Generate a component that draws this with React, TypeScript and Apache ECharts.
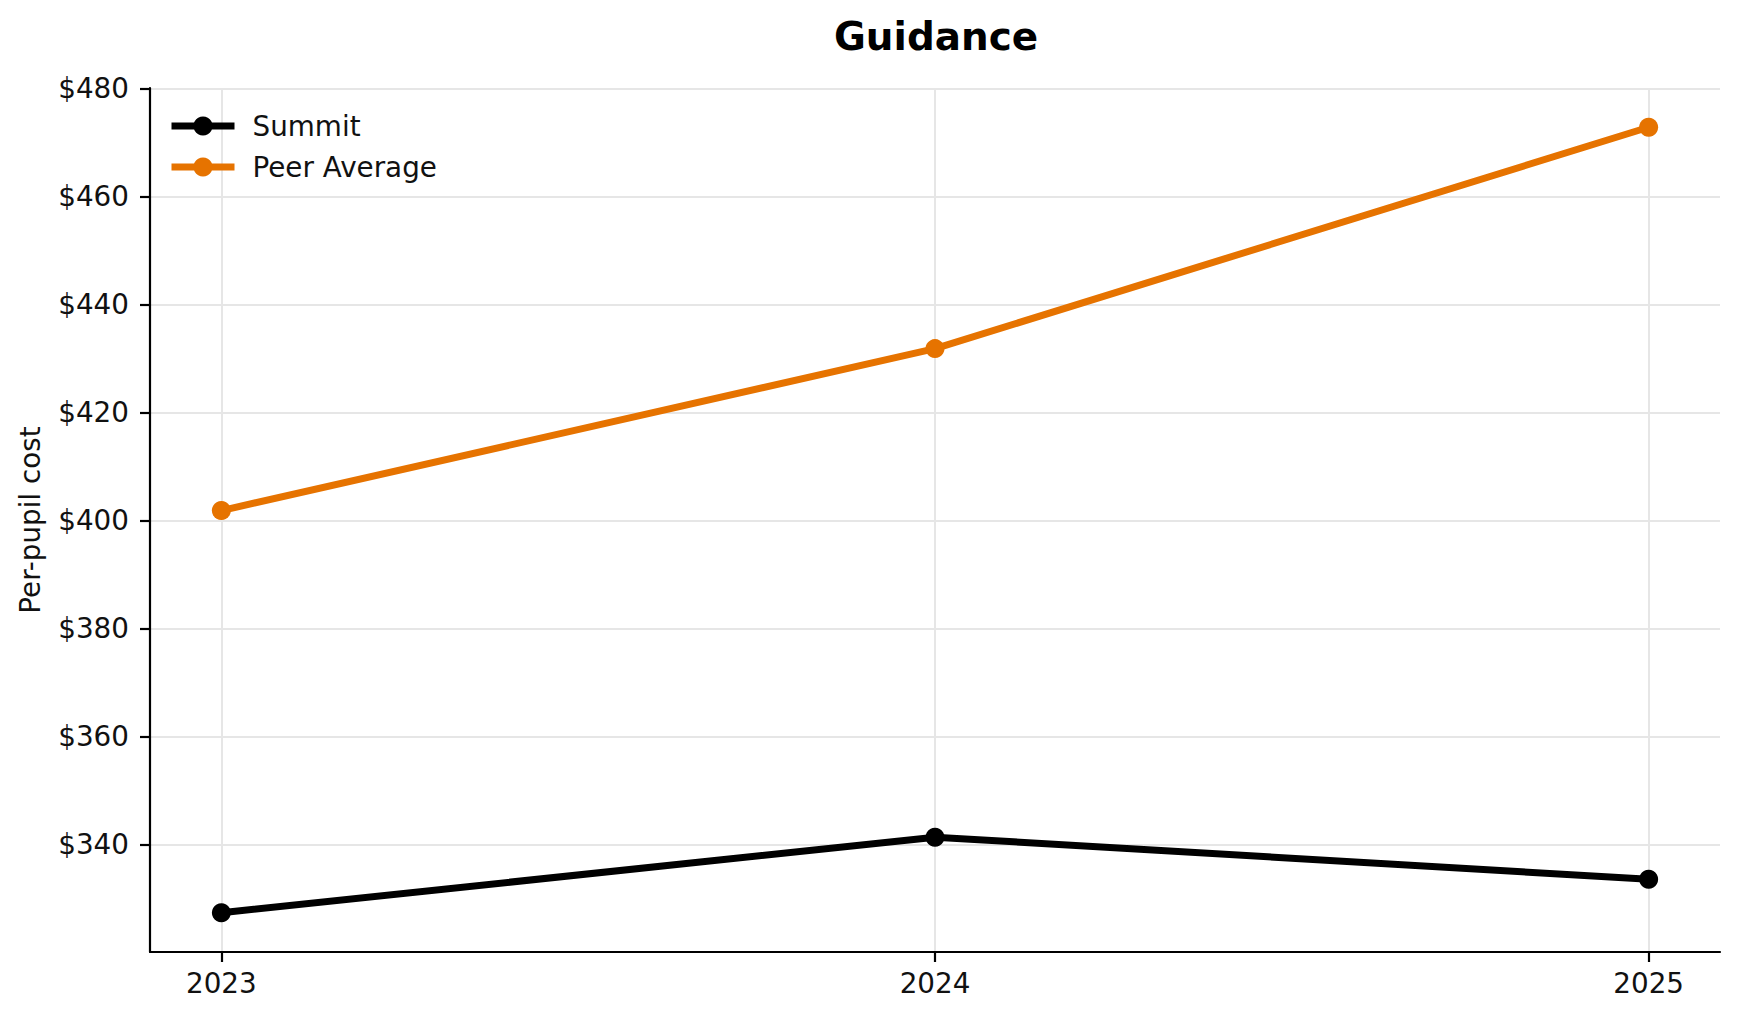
import { useEffect, useRef } from 'react';
import * as echarts from 'echarts';

// データ
const years = [2023, 2024, 2025];
const summitCost = [327.4, 341.4, 333.6];
const peerCost = [401.9, 431.9, 472.9];
const yTicks = [340, 360, 380, 400, 420, 440, 460, 480];

const FONT = 'DejaVu Sans';
const FS = 27.8;

const App: React.FC = () => {
  const chartRef = useRef<HTMLDivElement>(null);

  useEffect(() => {
    if (!chartRef.current) return;
    const chart = echarts.init(chartRef.current, undefined, { renderer: 'svg' });

    // matplotlib風の5%マージン
    const all = [...summitCost, ...peerCost];
    const yMin = Math.min(...all);
    const yMax = Math.max(...all);
    const yPad = (yMax - yMin) * 0.05;
    const xPad = (years[years.length - 1] - years[0]) * 0.05;

    const option: echarts.EChartsOption = {
      animation: false,
      backgroundColor: '#ffffff',
      title: {
        text: 'Guidance',
        left: 931,
        textAlign: 'center',
        top: 12,
        textStyle: { fontFamily: FONT, fontSize: 38.9, fontWeight: 'bold', color: '#000' },
      },
      legend: {
        orient: 'vertical',
        left: 168,
        top: 112,
        padding: 0,
        itemWidth: 63,
        itemHeight: 24,
        itemGap: 13,
        lineStyle: { width: 7 },
        textStyle: { fontFamily: FONT, fontSize: FS, color: '#111', padding: [0, 0, 0, 13] },
        data: ['Summit', 'Peer Average'],
      },
      grid: { left: 150, right: 19, top: 88, bottom: 67, containLabel: false },
      xAxis: {
        type: 'value',
        min: years[0] - xPad,
        max: years[years.length - 1] + xPad,
        axisLine: { show: true, lineStyle: { color: '#000', width: 2.2 } },
        axisTick: { show: true, length: 10, lineStyle: { color: '#000', width: 2.2 }, customValues: years } as any,
        axisLabel: {
          customValues: years,
          margin: 17,
          fontFamily: FONT,
          fontSize: FS,
          color: '#111',
          formatter: (v: number) => String(Math.round(v)),
        } as any,
        splitLine: { show: true, lineStyle: { color: '#e6e6e6', width: 2 } },
      },
      yAxis: {
        type: 'value',
        min: yMin - yPad,
        max: yMax + yPad,
        name: 'Per-pupil cost',
        nameLocation: 'middle',
        nameGap: 106,
        nameTextStyle: { fontFamily: FONT, fontSize: FS, color: '#111' },
        axisLine: { show: true, lineStyle: { color: '#000', width: 2.2 } },
        axisTick: { show: true, length: 10, lineStyle: { color: '#000', width: 2.2 }, customValues: yTicks } as any,
        axisLabel: {
          customValues: yTicks,
          margin: 21,
          fontFamily: FONT,
          fontSize: FS,
          color: '#111',
          formatter: (v: number) => '$' + Math.round(v),
        } as any,
        splitLine: { show: true, lineStyle: { color: '#e6e6e6', width: 2 } },
      },
      series: [
        {
          name: 'Summit',
          type: 'line',
          data: years.map((y, i) => [y, summitCost[i]]),
          symbol: 'circle',
          symbolSize: 19,
          lineStyle: { color: '#000000', width: 7 },
          itemStyle: { color: '#000000' },
        },
        {
          name: 'Peer Average',
          type: 'line',
          data: years.map((y, i) => [y, peerCost[i]]),
          symbol: 'circle',
          symbolSize: 19,
          lineStyle: { color: '#e67300', width: 7 },
          itemStyle: { color: '#e67300' },
        },
      ],
    };

    chart.setOption(option);

    return () => {
      chart.dispose();
    };
  }, []);

  return (
    <div
      ref={chartRef}
      style={{ position: 'fixed', left: 0, top: 0, width: '1739px', height: '1019px' }}
    />
  );
};

export default App;
